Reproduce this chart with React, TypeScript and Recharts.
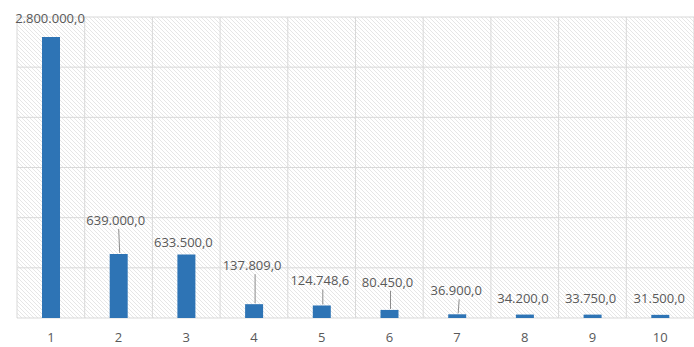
import { BarChart, Bar, XAxis, YAxis, CartesianGrid, LabelList } from "recharts";

const categories = ["1", "2", "3", "4", "5", "6", "7", "8", "9", "10"];
const values = [2800000, 639000, 633500, 137809, 124748.6, 80450, 36900, 34200, 33750, 31500];
const yTicks = [0, 500000, 1000000, 1500000, 2000000, 2500000, 3000000];

// label placement relative to top centre of each bar (dx, dy, leader line)
const labelPlacement = [
  { dx: -1, dy: -19, leader: false },
  { dx: -3, dy: -34, leader: true },
  { dx: -3, dy: -12, leader: false },
  { dx: -2, dy: -39, leader: true },
  { dx: -2, dy: -25, leader: true },
  { dx: -2, dy: -28, leader: true },
  { dx: -1, dy: -24, leader: true },
  { dx: -2, dy: -17, leader: false },
  { dx: -2, dy: -17, leader: false },
  { dx: -1, dy: -17, leader: false },
];

const data = categories.map((c, i) => ({ name: c, value: values[i] }));

const fmt = (v: number) => {
  const [int, dec] = v.toFixed(1).split(".");
  return int.replace(/\B(?=(\d{3})+(?!\d))/g, ".") + "," + dec;
};

const TXT = "#595959";

const BarLabel = (props: any) => {
  const { x, y, width, value, index } = props;
  const p = labelPlacement[index];
  const cx = x + width / 2 + p.dx;
  const cy = y + p.dy;
  return (
    <g>
      {p.leader && (
        <line x1={cx + 3} y1={cy + 9} x2={x + width / 2 + 1} y2={y - 1} stroke="#8c8c8c" strokeWidth={1} />
      )}
      <text x={cx} y={cy} textAnchor="middle" dominantBaseline="central" fill={TXT} fontSize={13} fontFamily="'Open Sans', sans-serif">
        {fmt(value)}
      </text>
    </g>
  );
};

export default function App() {
  return (
    <div style={{ position: "absolute", left: 0, top: 0, background: "#fff" }}>
      <BarChart width={694} height={347} data={data} margin={{ top: 17, right: 0, bottom: 0, left: 17 }} barCategoryGap={0}>
        <defs>
          <pattern id="hatch" width="4" height="4" patternUnits="userSpaceOnUse">
            <rect width="4" height="4" fill="#ffffff" />
            <path d="M-1,-1 L5,5 M-1,3 L1,5 M3,-1 L5,1" stroke="#e6e6e6" strokeWidth={1} />
          </pattern>
        </defs>
        <CartesianGrid
          fill="url(#hatch)"
          fillOpacity={1}
          stroke="#d9d9d9"
          verticalCoordinatesGenerator={({ offset }: any) =>
            categories.map((_, i) => offset.left + (i * offset.width) / categories.length).concat([offset.left + offset.width])
          }
        />
        <XAxis dataKey="name" axisLine={false} tickLine={false} height={29} tickMargin={9}
          tick={{ fill: TXT, fontSize: 13, fontFamily: "'Open Sans', sans-serif" }} interval={0} />
        <YAxis hide domain={[0, 3000000]} ticks={yTicks} />
        <Bar dataKey="value" fill="#2e74b5" barSize={18} isAnimationActive={false}>
          <LabelList dataKey="value" content={<BarLabel />} />
        </Bar>
      </BarChart>
    </div>
  );
}
